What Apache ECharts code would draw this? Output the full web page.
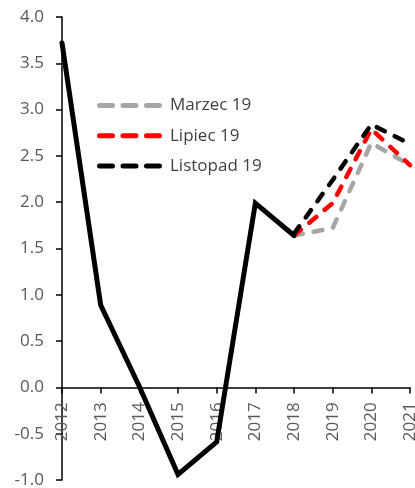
<!DOCTYPE html>
<html><head><meta charset="utf-8">
<script src="https://cdn.jsdelivr.net/npm/echarts@6/dist/echarts.min.js"></script>
<style>html,body{margin:0;padding:0;background:#fff}#c{width:415px;height:488px}</style>
</head><body><div id="c"></div>
<script>
const years = ['2012','2013','2014','2015','2016','2017','2018','2019','2020','2021'];
const actual = [3.72, 0.89, 0.01, -0.94, -0.59, 1.99, 1.64, null, null, null];
const marzec = [null, null, null, null, null, null, 1.64, 1.72, 2.64, 2.4];
const lipiec = [null, null, null, null, null, null, 1.64, 1.99, 2.79, 2.4];
const listopad = [null, null, null, null, null, null, 1.66, 2.24, 2.84, 2.63];
const legendNames = ['Marzec 19', 'Lipiec 19', 'Listopad 19'];
const yMin = -1, yMax = 4;

const W = 415, H = 488;
const gridTop = 17, gridBottom = 8;
const gridH = H - gridTop - gridBottom;
// shift the category axis up so it sits on the value 0 line
const zeroShift = -gridH * (0 - yMin) / (yMax - yMin);

const chart = echarts.init(document.getElementById('c'));
const font = '"Open Sans", sans-serif';
function dashPath() {
  const r = 2.5, h = 5, segs = [[0,18],[23.5,41.5],[47,65]];
  let p = 'path://';
  segs.forEach(([a,b]) => {
    p += `M${a+r},0 H${b-r} A${r},${r} 0 0 1 ${b-r},${h} H${a+r} A${r},${r} 0 0 1 ${a+r},0 Z `;
  });
  return p;
}
function dashed(name, data, color) {
  return {name, type:'line', data, symbol:'none', connectNulls:false,
    lineStyle:{color, width:4.5, type:[9,11], cap:'round'}, itemStyle:{color}};
}
chart.setOption({
  animation:false,
  grid:{left:62, right:5, top:gridTop, bottom:gridBottom, containLabel:false, outerBoundsMode:'none'},
  legend:{
    orient:'vertical', left:92, top:92, itemWidth:65, itemHeight:5, itemGap:13.3,
    icon:dashPath(),
    itemStyle:{borderWidth:0},
    data:legendNames,
    textStyle:{fontFamily:font, fontSize:17, color:'#404040', padding:[0,0,0,3]}
  },
  xAxis:{type:'category', data:years, boundaryGap:false, offset:zeroShift,
    axisLine:{onZero:false, lineStyle:{color:'#000', width:1.5}},
    axisTick:{show:true, length:6, lineStyle:{color:'#000', width:1.5}},
    axisLabel:{rotate:90, fontFamily:font, fontSize:17, color:'#595959', margin:15},
    splitLine:{show:false}},
  yAxis:{type:'value', min:yMin, max:yMax, interval:0.5,
    axisLine:{show:true, onZero:false, lineStyle:{color:'#000', width:1.5}},
    axisTick:{show:true, length:6, lineStyle:{color:'#000', width:1.5}},
    axisLabel:{fontFamily:font, fontSize:17, color:'#595959', margin:18,
      formatter:v=>v.toFixed(1)},
    splitLine:{show:false}},
  series:[
    dashed('Marzec 19', marzec, '#a6a6a6'),
    dashed('Lipiec 19', lipiec, '#ff0000'),
    dashed('Listopad 19', listopad, '#000000'),
    {name:'Actual', type:'line', data:actual, symbol:'none',
      lineStyle:{color:'#000', width:5, cap:'round', join:'miter'}, z:5}
  ]
});
</script></body></html>
